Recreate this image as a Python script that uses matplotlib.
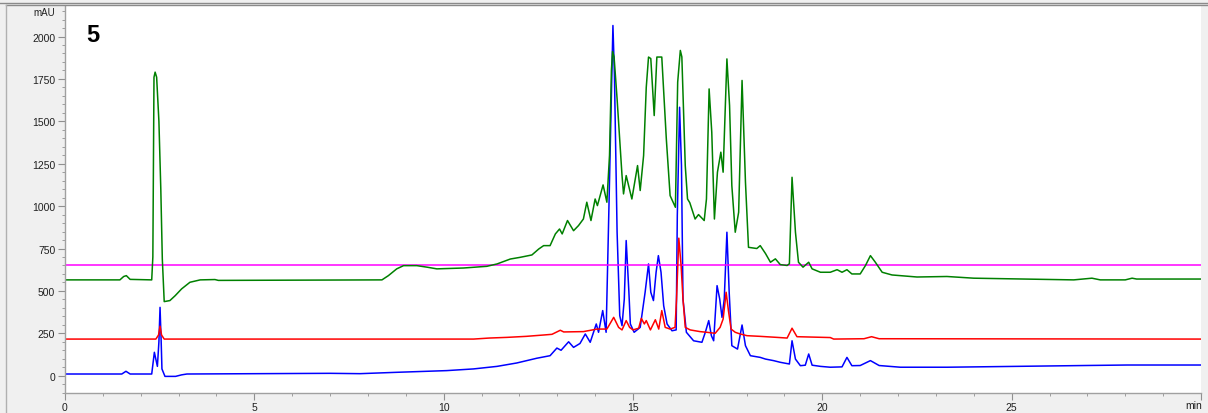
import numpy as np
import matplotlib
matplotlib.use('Agg')
import matplotlib.pyplot as plt
from matplotlib.lines import Line2D
from matplotlib.ticker import MultipleLocator

# chromatogram traces (time in min, signal in mAU)
green_t = [0.0, 1.45, 1.55, 1.62, 1.72, 2.29, 2.32, 2.35, 2.38, 2.42, 2.48, 2.53, 2.57, 2.62, 2.77,
           2.91, 3.08, 3.30, 3.57, 3.96, 4.05, 8.37, 8.54, 8.76, 8.94, 9.29, 9.56, 9.82, 10.52,
           11.14, 11.41, 11.76, 12.02, 12.33, 12.51, 12.64, 12.81, 12.95, 13.06, 13.13, 13.27,
           13.43, 13.56, 13.69, 13.78, 13.89, 14.00, 14.06, 14.21, 14.31, 14.38, 14.43, 14.46,
           14.50, 14.58, 14.71, 14.75, 14.82, 14.97, 15.12, 15.19, 15.28, 15.35, 15.41, 15.47,
           15.56, 15.63, 15.76, 15.88, 15.98, 16.12, 16.18, 16.25, 16.29, 16.38, 16.44, 16.50,
           16.64, 16.73, 16.88, 16.94, 17.01, 17.08, 17.15, 17.23, 17.32, 17.38, 17.48, 17.55,
           17.61, 17.70, 17.79, 17.88, 17.97, 18.05, 18.27, 18.36, 18.50, 18.63, 18.76, 18.89,
           19.07, 19.13, 19.20, 19.29, 19.37, 19.49, 19.64, 19.73, 19.95, 20.21, 20.39, 20.52,
           20.65, 20.78, 21.00, 21.14, 21.27, 21.40, 21.58, 21.84, 22.06, 22.50, 23.29, 24.0,
           25.32, 26.64, 27.12, 27.34, 28.0, 28.18, 28.3, 30.0]
green_v = [565, 565, 585, 590, 568, 565, 700, 1760, 1790, 1760, 1500, 1100, 688, 437, 443,
           472, 512, 551, 565, 567, 562, 565, 590, 630, 649, 649, 640, 630, 635,
           645, 659, 688, 698, 712, 747, 767, 767, 836, 865, 836, 915,
           855, 885, 924, 1023, 915, 1042, 1003, 1125, 1023, 1300, 1800, 1912,
           1880, 1632, 1180, 1072, 1180, 1042, 1239, 1092, 1298, 1700, 1879, 1870,
           1534, 1879, 1879, 1396, 1062, 993, 1731, 1918, 1880, 1239, 1042, 1020,
           924, 950, 915, 1042, 1691, 1436, 924, 1200, 1318, 1200, 1868, 1593,
           1121, 846, 964, 1741, 1141, 757, 750, 767, 720, 669, 689, 655,
           650, 660, 1170, 846, 669, 640, 669, 630, 610, 610, 625, 610,
           625, 600, 600, 650, 708, 669, 610, 594, 590, 582, 585, 575,
           570, 565, 575, 565, 565, 575, 570, 570]

blue_t = [0, 1.50, 1.61, 1.72, 2.29, 2.36, 2.44, 2.48, 2.51, 2.54, 2.56, 2.64, 2.92, 3.08, 3.22,
          7.0, 7.79, 8.76, 10.08, 10.79, 11.41, 11.93, 12.46, 12.81, 12.99, 13.10, 13.30, 13.43,
          13.60, 13.74, 13.87, 14.03, 14.09, 14.20, 14.29, 14.35, 14.47, 14.51, 14.58, 14.65,
          14.71, 14.77, 14.82, 14.89, 14.93, 15.03, 15.19, 15.32, 15.41, 15.47, 15.54, 15.61,
          15.67, 15.74, 15.81, 15.90, 16.03, 16.14, 16.17, 16.23, 16.28, 16.32, 16.41, 16.60,
          16.82, 16.91, 17.00, 17.07, 17.13, 17.22, 17.29, 17.35, 17.41, 17.48, 17.54, 17.61,
          17.76, 17.88, 17.97, 18.10, 18.36, 18.50, 18.71, 18.89, 19.13, 19.20, 19.29, 19.42,
          19.55, 19.64, 19.73, 19.95, 20.21, 20.52, 20.65, 20.78, 21.00, 21.27, 21.50, 22.06,
          23.3, 26.55, 26.9, 28.05, 30.0]
blue_v = [10, 10, 26, 10, 10, 138, 55, 200, 403, 200, 40, -4, -4, 5, 10,
          14, 12, 20, 30, 40, 55, 75, 103, 118, 163, 150, 200, 167,
          190, 246, 197, 305, 256, 384, 256, 848, 2065, 1770, 846, 354,
          295, 452, 797, 500, 305, 256, 285, 492, 659, 492, 443, 610,
          708, 610, 413, 305, 265, 270, 944, 1583, 1240, 452, 256, 206,
          197, 256, 325, 236, 206, 531, 452, 344, 452, 846, 492, 177,
          157, 299, 177, 118, 108, 98, 89, 79, 69, 206, 98, 59,
          62, 128, 62, 55, 50, 52, 108, 59, 60, 89, 60, 50,
          50, 59, 60, 63, 63]

red_t = [0, 2.40, 2.47, 2.51, 2.55, 2.62, 10.79, 11.2, 11.67, 12.18, 12.64, 12.86, 13.08, 13.17,
         13.69, 14.05, 14.31, 14.49, 14.62, 14.71, 14.82, 14.91, 15.00, 15.15, 15.22, 15.30,
         15.35, 15.46, 15.59, 15.68, 15.76, 15.85, 15.98, 16.11, 16.15, 16.21, 16.27, 16.32,
         16.38, 16.51, 16.77, 16.95, 17.17, 17.30, 17.38, 17.46, 17.52, 17.59, 17.70, 17.83,
         18.01, 18.36, 18.80, 19.07, 19.20, 19.33, 20.21, 20.30, 21.1, 21.3, 21.5, 30]
red_v = [216, 216, 240, 292, 240, 216, 216, 222, 226, 232, 240, 244, 268, 258,
         260, 275, 275, 344, 285, 270, 325, 285, 270, 280, 338, 305,
         325, 270, 330, 275, 384, 285, 275, 285, 452, 811, 650, 452,
         285, 270, 260, 256, 250, 285, 334, 492, 384, 275, 256, 246,
         236, 232, 226, 222, 280, 230, 225, 216, 218, 230, 218, 216]

magenta_t = [0, 30]
magenta_v = [650, 650]

plt.rcParams['font.family'] = ['Liberation Sans', 'DejaVu Sans']

W, H = 1208, 414
fig = plt.figure(figsize=(W / 100, H / 100), dpi=100, facecolor='#f0f0f0')
ax = fig.add_axes([65 / W, 20 / H, 1136 / W, 387 / H])
ax.set_facecolor('white')

lw = 1.1
ax.plot(blue_t, blue_v, color='#0000ff', lw=lw)
ax.plot(magenta_t, magenta_v, color='#ff00ff', lw=lw)
ax.plot(red_t, red_v, color='#ff0000', lw=lw)
ax.plot(green_t, green_v, color='#008000', lw=lw)

ax.set_xlim(0, 30)
ax.set_ylim(-102, 2180)

# osie w stylu programu do chromatografii
for s in ['top', 'right']:
    ax.spines[s].set_visible(False)
for s in ['left', 'bottom']:
    ax.spines[s].set_color('#a0a0a0')
    ax.spines[s].set_linewidth(1.0)

ax.set_xticks(np.arange(0, 31, 5))
ax.set_xticklabels(['0', '5', '10', '15', '20', '25', ''])
ax.xaxis.set_minor_locator(MultipleLocator(1))
ax.set_yticks(np.arange(0, 2001, 250))
ax.yaxis.set_minor_locator(MultipleLocator(50))
ax.tick_params(which='major', length=5, color='#909090', labelsize=7.5, labelcolor='#202020')
ax.tick_params(which='minor', length=2.5, color='#909090')
ax.tick_params(axis='x', pad=1.5)
ax.tick_params(axis='y', pad=2)

fig.text(55 / W, 1 - 13 / H, 'mAU', ha='right', va='center', fontsize=7, color='#202020')
fig.text(1202 / W, 1 - 406 / H, 'min', ha='right', va='center', fontsize=7.5, color='#202020')
fig.text(93 / W, 1 - 36 / H, '5', ha='center', va='center', fontsize=17, fontweight='bold')

# ramka okna
fig.add_artist(Line2D([0, 1], [1 - 3.5 / H] * 2, transform=fig.transFigure, color='#8a8a8a', lw=1))
fig.add_artist(Line2D([6 / W, 1], [1 - 6 / H] * 2, transform=fig.transFigure, color='#8a8a8a', lw=1))
fig.add_artist(Line2D([6 / W, 6 / W], [0, 1 - 6 / H], transform=fig.transFigure, color='#b0b0b0', lw=1))

fig.savefig('out.png', dpi=100, facecolor=fig.get_facecolor())
